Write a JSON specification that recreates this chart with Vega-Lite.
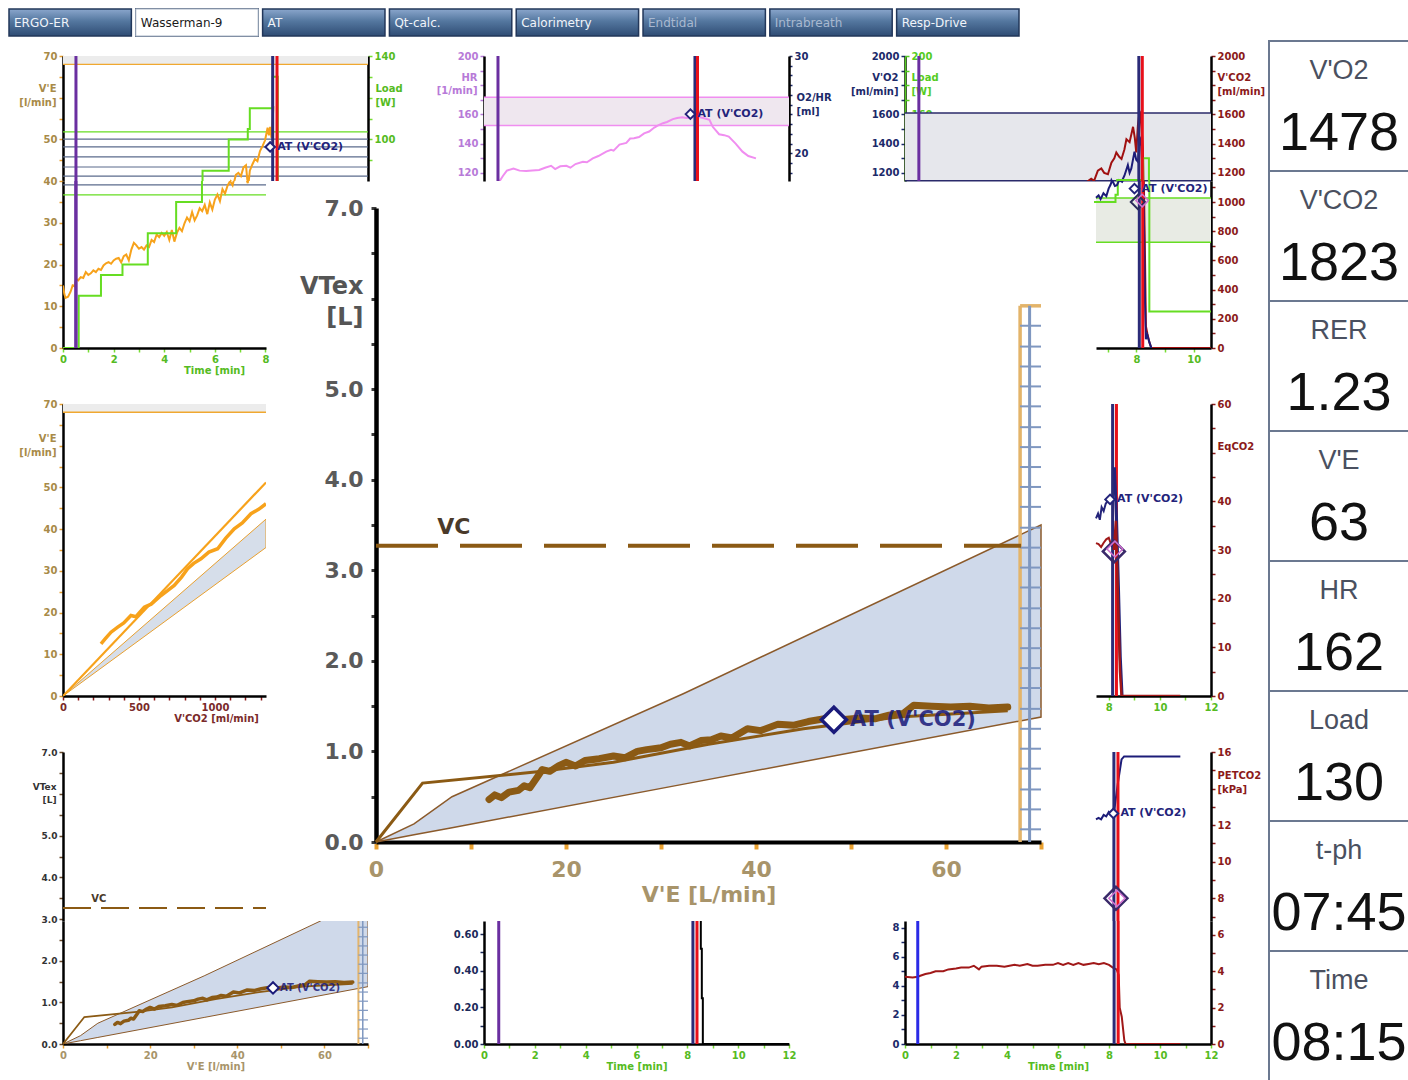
{
"$schema":"https://vega.github.io/schema/vega-lite/v6.json",
"background":"white",
"padding":{"left":8,"top":8,"right":0,"bottom":0},
"config":{
 "view":{"stroke":null},
 "axis":{"labelFont":"DejaVu Sans","labelFontWeight":"bold","labelFontSize":10,"titleFont":"DejaVu Sans","titleFontWeight":"bold","titleFontSize":10,"domainColor":"#000000","domainWidth":2.5,"tickWidth":1.5,"tickSize":4,"grid":false,"labelPadding":2,"labelFlush":false,"labelOverlap":false},
 "text":{"font":"DejaVu Sans"}
},
"datasets":{
 "ve":[{"t":0,"v":15},{"t":0.05,"v":13},{"t":0.1,"v":12},{"t":0.2,"v":12.3},{"t":0.3,"v":13.5},{"t":0.38,"v":15},{"t":0.45,"v":14.8},{"t":0.52,"v":16.5},{"t":0.6,"v":16.2},{"t":0.7,"v":17},{"t":0.8,"v":16.8},{"t":0.9,"v":18.2},{"t":1,"v":17.5},{"t":1.1,"v":17.9},{"t":1.2,"v":18.6},{"t":1.3,"v":18.2},{"t":1.4,"v":19},{"t":1.5,"v":18.7},{"t":1.6,"v":19.8},{"t":1.7,"v":20.3},{"t":1.8,"v":20.6},{"t":1.9,"v":20.2},{"t":2,"v":21},{"t":2.1,"v":21.4},{"t":2.2,"v":21.6},{"t":2.3,"v":20.5},{"t":2.4,"v":22},{"t":2.5,"v":22.4},{"t":2.6,"v":21},{"t":2.7,"v":23.6},{"t":2.8,"v":25.2},{"t":2.9,"v":24.6},{"t":3,"v":23.8},{"t":3.1,"v":24.2},{"t":3.2,"v":23.6},{"t":3.3,"v":24.6},{"t":3.4,"v":24.2},{"t":3.5,"v":25.9},{"t":3.6,"v":25.4},{"t":3.7,"v":27.2},{"t":3.8,"v":26.6},{"t":3.9,"v":27.6},{"t":4,"v":26.9},{"t":4.1,"v":27.8},{"t":4.2,"v":25.9},{"t":4.3,"v":28.3},{"t":4.4,"v":25.5},{"t":4.5,"v":27.6},{"t":4.6,"v":28.8},{"t":4.7,"v":28},{"t":4.8,"v":29.9},{"t":4.9,"v":31.3},{"t":5,"v":30.4},{"t":5.1,"v":32.6},{"t":5.2,"v":30.6},{"t":5.3,"v":31.8},{"t":5.4,"v":33.5},{"t":5.5,"v":32.8},{"t":5.6,"v":34.3},{"t":5.7,"v":32.1},{"t":5.8,"v":34.9},{"t":5.9,"v":33.2},{"t":6,"v":35.6},{"t":6.1,"v":36.8},{"t":6.2,"v":35.2},{"t":6.3,"v":38.1},{"t":6.4,"v":37},{"t":6.5,"v":38.9},{"t":6.6,"v":40},{"t":6.7,"v":39},{"t":6.8,"v":41.5},{"t":6.9,"v":42},{"t":7,"v":41.2},{"t":7.1,"v":43.3},{"t":7.2,"v":43.8},{"t":7.25,"v":40.4},{"t":7.3,"v":39.5},{"t":7.35,"v":42.5},{"t":7.45,"v":44},{"t":7.55,"v":45.3},{"t":7.65,"v":44.8},{"t":7.75,"v":47.2},{"t":7.85,"v":48.4},{"t":7.95,"v":49.8},{"t":8.05,"v":52.8},{"t":8.1,"v":51},{"t":8.15,"v":53},{"t":8.2,"v":50.4},{"t":8.25,"v":55},{"t":8.28,"v":58}],
 "load":[{"t":0,"w":0},{"t":0.62,"w":25},{"t":1.5,"w":35},{"t":2.35,"w":40},{"t":3.35,"w":55},{"t":4.47,"w":70},{"t":5.49,"w":85},{"t":6.52,"w":100},{"t":7.27,"w":105},{"t":7.35,"w":115},{"t":8.25,"w":130},{"t":8.45,"w":25},{"t":10.75,"w":25}],
 "aLines":[{"t":0,"t2":12,"v":68,"c":"o"},{"t":0,"t2":12,"v":51.8,"c":"l"},{"t":0,"t2":12,"v":50.1,"c":"g"},{"t":0,"t2":12,"v":48.2,"c":"g"},{"t":0,"t2":12,"v":45.8,"c":"g"},{"t":0,"t2":12,"v":43.4,"c":"g"},{"t":0,"t2":12,"v":41.2,"c":"g"},{"t":0,"t2":12,"v":39.1,"c":"g"},{"t":0,"t2":12,"v":36.7,"c":"l"}],
 "hr":[{"t":0.55,"v":113},{"t":0.62,"v":114.5},{"t":0.75,"v":118},{"t":0.9,"v":121.5},{"t":1.16,"v":123},{"t":1.4,"v":121.5},{"t":1.66,"v":121.2},{"t":1.9,"v":121.6},{"t":2.17,"v":121.9},{"t":2.4,"v":123.5},{"t":2.64,"v":124.8},{"t":2.8,"v":122.6},{"t":3,"v":124.5},{"t":3.24,"v":124.8},{"t":3.4,"v":123.5},{"t":3.6,"v":126},{"t":3.89,"v":127.6},{"t":4.05,"v":127.2},{"t":4.28,"v":129.9},{"t":4.5,"v":131.5},{"t":4.81,"v":134.5},{"t":5,"v":135.8},{"t":5.1,"v":135.2},{"t":5.33,"v":139.3},{"t":5.6,"v":140.5},{"t":5.75,"v":143.5},{"t":5.9,"v":143.7},{"t":6.1,"v":144.5},{"t":6.3,"v":147},{"t":6.5,"v":148.3},{"t":6.7,"v":151},{"t":6.85,"v":152.5},{"t":7.04,"v":154},{"t":7.2,"v":154.8},{"t":7.43,"v":156.8},{"t":7.6,"v":157.5},{"t":7.8,"v":158},{"t":7.96,"v":157.5},{"t":8.2,"v":158},{"t":8.5,"v":158},{"t":8.7,"v":157.2},{"t":8.87,"v":156.3},{"t":9,"v":151.5},{"t":9.25,"v":146.4},{"t":9.45,"v":145.8},{"t":9.63,"v":144.8},{"t":9.9,"v":140},{"t":10.17,"v":134.5},{"t":10.4,"v":131.5},{"t":10.7,"v":129.9}],
 "vco2":[{"t":6.2,"v":1120},{"t":6.28,"v":1135},{"t":6.45,"v":1160},{"t":6.55,"v":1145},{"t":6.68,"v":1215},{"t":6.8,"v":1230},{"t":6.9,"v":1200},{"t":7.03,"v":1190},{"t":7.15,"v":1270},{"t":7.25,"v":1300},{"t":7.32,"v":1340},{"t":7.42,"v":1310},{"t":7.5,"v":1295},{"t":7.6,"v":1360},{"t":7.67,"v":1430},{"t":7.78,"v":1410},{"t":7.9,"v":1515},{"t":7.96,"v":1440},{"t":8.01,"v":1340},{"t":8.07,"v":1530},{"t":8.13,"v":1625},{"t":8.2,"v":1500},{"t":8.24,"v":1365},{"t":8.27,"v":1000},{"t":8.3,"v":600},{"t":8.33,"v":150},{"t":8.38,"v":100},{"t":8.45,"v":40},{"t":8.52,"v":0},{"t":10.6,"v":0}],
 "vo2":[{"t":6.4,"v":1000},{"t":6.59,"v":1030},{"t":6.68,"v":1046},{"t":6.75,"v":1020},{"t":6.85,"v":1060},{"t":6.95,"v":1040},{"t":7.03,"v":1092},{"t":7.1,"v":1120},{"t":7.15,"v":1150},{"t":7.25,"v":1110},{"t":7.32,"v":1115},{"t":7.4,"v":1150},{"t":7.5,"v":1138},{"t":7.6,"v":1180},{"t":7.72,"v":1253},{"t":7.78,"v":1200},{"t":7.84,"v":1230},{"t":7.95,"v":1345},{"t":8.01,"v":1290},{"t":8.07,"v":1276},{"t":8.13,"v":1448},{"t":8.18,"v":1390},{"t":8.22,"v":1250},{"t":8.26,"v":900},{"t":8.3,"v":300},{"t":8.33,"v":60},{"t":8.38,"v":90},{"t":8.45,"v":40},{"t":8.52,"v":0}],
 "dThick":[{"x":250,"y":12.5},{"x":280,"y":13.8},{"x":316,"y":15.3},{"x":360,"y":16.5},{"x":400,"y":17.5},{"x":447,"y":19.3},{"x":480,"y":19},{"x":535,"y":21.3},{"x":580,"y":22},{"x":645,"y":24.1},{"x":690,"y":25.3},{"x":732,"y":26.5},{"x":780,"y":28.5},{"x":820,"y":30.5},{"x":860,"y":31.8},{"x":908,"y":32.9},{"x":960,"y":34.5},{"x":1018,"y":35.3},{"x":1070,"y":37.8},{"x":1127,"y":40.1},{"x":1180,"y":41.5},{"x":1237,"y":43.7},{"x":1290,"y":44.8},{"x":1336,"y":46.1}],
 "vtArea":[{"x":0,"y":0,"y2":0},{"x":4,"y":0.2,"y2":0.079},{"x":8,"y":0.5,"y2":0.158},{"x":32.4,"y":1.64,"y2":0.639},{"x":70,"y":3.5,"y2":1.38}],
 "vtThin":[{"x":0,"y":0},{"x":4.9,"y":0.65},{"x":17.5,"y":0.78},{"x":25,"y":0.88},{"x":35,"y":1.08},{"x":45,"y":1.25},{"x":55,"y":1.38},{"x":66.5,"y":1.45}],
 "vtThick":[{"x":11.9,"y":0.47},{"x":12.5,"y":0.52},{"x":13.2,"y":0.49},{"x":14,"y":0.55},{"x":15,"y":0.57},{"x":15.6,"y":0.62},{"x":16.2,"y":0.6},{"x":17,"y":0.72},{"x":17.5,"y":0.8},{"x":18.3,"y":0.78},{"x":19.2,"y":0.84},{"x":20,"y":0.88},{"x":21,"y":0.84},{"x":22,"y":0.9},{"x":23.5,"y":0.92},{"x":25,"y":0.95},{"x":26.2,"y":0.93},{"x":27.5,"y":1},{"x":28.5,"y":1.02},{"x":30,"y":1.04},{"x":31,"y":1.08},{"x":32.1,"y":1.1},{"x":33,"y":1.06},{"x":34.2,"y":1.12},{"x":35.3,"y":1.13},{"x":36.3,"y":1.17},{"x":37.5,"y":1.15},{"x":39.1,"y":1.25},{"x":40.5,"y":1.23},{"x":42.3,"y":1.3},{"x":44,"y":1.29},{"x":45.5,"y":1.33},{"x":47.2,"y":1.36},{"x":49,"y":1.35},{"x":51,"y":1.37},{"x":52.5,"y":1.36},{"x":54,"y":1.4},{"x":55.5,"y":1.42},{"x":56.6,"y":1.51},{"x":58.5,"y":1.5},{"x":60.5,"y":1.49},{"x":62.5,"y":1.5},{"x":64.5,"y":1.48},{"x":66.5,"y":1.49}],
 "bandTicks":[{"x":67.8,"x2":70,"y":5.7},{"x":67.8,"x2":70,"y":5.47},{"x":67.8,"x2":70,"y":5.25},{"x":67.8,"x2":70,"y":5.03},{"x":67.8,"x2":70,"y":4.81},{"x":67.8,"x2":70,"y":4.58},{"x":67.8,"x2":70,"y":4.36},{"x":67.8,"x2":70,"y":4.14},{"x":67.8,"x2":70,"y":3.92},{"x":67.8,"x2":70,"y":3.7},{"x":67.8,"x2":70,"y":3.47},{"x":67.8,"x2":70,"y":3.25},{"x":67.8,"x2":70,"y":3.03},{"x":67.8,"x2":70,"y":2.81},{"x":67.8,"x2":70,"y":2.58},{"x":67.8,"x2":70,"y":2.36},{"x":67.8,"x2":70,"y":2.14},{"x":67.8,"x2":70,"y":1.92},{"x":67.8,"x2":70,"y":1.7},{"x":67.8,"x2":70,"y":1.47},{"x":67.8,"x2":70,"y":1.25},{"x":67.8,"x2":70,"y":1.03},{"x":67.8,"x2":70,"y":0.81},{"x":67.8,"x2":70,"y":0.58},{"x":67.8,"x2":70,"y":0.36},{"x":67.8,"x2":70,"y":0.14}],
 "vc":[{"x":0,"x2":67.9,"y":3.27,"lx":8.2,"label":"VC"}],
 "at":[{"x":48.2,"y":1.35,"label":"AT (V'CO2)"}],
 "petco2":[{"t":0,"v":3.7},{"t":0.3,"v":3.65},{"t":0.5,"v":3.7},{"t":0.6,"v":3.75},{"t":0.8,"v":3.85},{"t":1,"v":3.9},{"t":1.2,"v":4},{"t":1.5,"v":4},{"t":1.7,"v":4.1},{"t":2,"v":4.15},{"t":2.2,"v":4.2},{"t":2.5,"v":4.2},{"t":2.7,"v":4.3},{"t":2.9,"v":4.1},{"t":3,"v":4.25},{"t":3.3,"v":4.3},{"t":3.6,"v":4.3},{"t":3.9,"v":4.25},{"t":4.1,"v":4.3},{"t":4.3,"v":4.35},{"t":4.5,"v":4.3},{"t":4.8,"v":4.4},{"t":5,"v":4.3},{"t":5.2,"v":4.3},{"t":5.5,"v":4.35},{"t":5.8,"v":4.35},{"t":6,"v":4.45},{"t":6.2,"v":4.35},{"t":6.4,"v":4.45},{"t":6.6,"v":4.35},{"t":6.8,"v":4.45},{"t":7,"v":4.35},{"t":7.2,"v":4.4},{"t":7.4,"v":4.45},{"t":7.6,"v":4.38},{"t":7.8,"v":4.45},{"t":8,"v":4.35},{"t":8.15,"v":4.2},{"t":8.3,"v":4.1},{"t":8.38,"v":3.8},{"t":8.42,"v":2},{"t":8.5,"v":1.5},{"t":8.6,"v":0.2},{"t":8.65,"v":0},{"t":10.8,"v":0}],
 "peto2":[{"t":7.5,"v":15.4},{"t":7.6,"v":15.5},{"t":7.7,"v":15.4},{"t":7.8,"v":15.7},{"t":7.9,"v":15.6},{"t":8,"v":15.9},{"t":8.1,"v":15.7},{"t":8.2,"v":15.8},{"t":8.35,"v":17.8},{"t":8.5,"v":19.5},{"t":8.6,"v":19.7},{"t":10.8,"v":19.7}],
 "eqN":[{"t":7.5,"v":36.5},{"t":7.58,"v":37.5},{"t":7.65,"v":36.2},{"t":7.72,"v":38.8},{"t":7.8,"v":38},{"t":7.88,"v":39.5},{"t":7.95,"v":40},{"t":8.05,"v":40.4}],
 "eqR":[{"t":7.5,"v":31.4},{"t":7.6,"v":31.2},{"t":7.7,"v":30.6},{"t":7.8,"v":31.5},{"t":7.9,"v":32.2},{"t":8,"v":32.5},{"t":8.1,"v":31},{"t":8.2,"v":30}],
 "eqNpost":[{"t":8.22,"v":47},{"t":8.3,"v":37},{"t":8.38,"v":22},{"t":8.45,"v":8},{"t":8.52,"v":0}],
 "eqRpost":[{"t":8.2,"v":30},{"t":8.28,"v":36},{"t":8.36,"v":20},{"t":8.44,"v":5},{"t":8.5,"v":0},{"t":10.8,"v":0}],
 "hBlack":[{"t":8.5,"v":0.672},{"t":8.53,"v":0.52},{"t":8.57,"v":0.25},{"t":8.61,"v":0},{"t":12,"v":0}],
 "blank":[{"a":1}]
},
"columns":6,
"spacing":0,
"bounds":"flush",
"align":"each",
"concat":[
 {
  "width":54,"height":27,
  "data":{"values":[{"tab":"ERGO-ER","s":"on"},{"tab":"Wasserman-9","s":"active"},{"tab":"AT","s":"on"},{"tab":"Qt-calc.","s":"on"},{"tab":"Calorimetry","s":"on"},{"tab":"Endtidal","s":"off"},{"tab":"Intrabreath","s":"off"},{"tab":"Resp-Drive","s":"on"}]},
  "encoding":{"x":{"field":"tab","type":"nominal","sort":null,"scale":{"range":[0,1010],"paddingInner":0.035,"paddingOuter":0},"axis":null}},
  "layer":[
   {"mark":{"type":"rect","stroke":"#22375a","strokeWidth":1.5,"fill":{"gradient":"linear","x1":0,"y1":0,"x2":0,"y2":1,"stops":[{"offset":0,"color":"#8aa6cc"},{"offset":0.45,"color":"#54779f"},{"offset":1,"color":"#2f4c74"}]}}},
   {"transform":[{"filter":"datum.s=='active'"}],"mark":{"type":"rect","fill":"white","stroke":"#aab6c6","strokeWidth":1}},
   {"mark":{"type":"text","align":"left","dx":5,"fontSize":12,"font":"DejaVu Sans"},"encoding":{"x":{"field":"tab","type":"nominal","sort":null,"bandPosition":0},"text":{"field":"tab"},"color":{"field":"s","type":"nominal","scale":{"domain":["on","off","active"],"range":["#f0f4fa","#a9b9d0","#1a1a1a"]},"legend":null}}}
  ]
 },
 {"width":1,"height":32,"data":{"name":"blank"},"mark":{"type":"text","text":"","fontSize":1,"baseline":"top"}},
 {"width":1,"height":1,"data":{"name":"blank"},"mark":{"type":"text","text":"","fontSize":1,"baseline":"top"}},
 {"width":1,"height":1,"data":{"name":"blank"},"mark":{"type":"text","text":"","fontSize":1,"baseline":"top"}},
 {"width":1,"height":1,"data":{"name":"blank"},"mark":{"type":"text","text":"","fontSize":1,"baseline":"top"}},
 {"width":1,"height":1,"data":{"name":"blank"},"mark":{"type":"text","text":"","fontSize":1,"baseline":"top"}},

 {"width":1,"height":15,"data":{"name":"blank"},"mark":{"type":"text","text":"","fontSize":1,"baseline":"top"}},
 {"width":1,"height":1,"data":{"name":"blank"},"mark":{"type":"text","text":"","fontSize":1,"baseline":"top"}},
 {"width":1,"height":1,"data":{"name":"blank"},"mark":{"type":"text","text":"","fontSize":1,"baseline":"top"}},
 {"width":1,"height":1,"data":{"name":"blank"},"mark":{"type":"text","text":"","fontSize":1,"baseline":"top"}},
 {"width":1,"height":1,"data":{"name":"blank"},"mark":{"type":"text","text":"","fontSize":1,"baseline":"top"}},
 {
  "width":140,"height":15,
  "data":{"values":[{"k":"V'O2","v":"1478"},{"k":"V'CO2","v":"1823"},{"k":"RER","v":"1.23"},{"k":"V'E","v":"63"},{"k":"HR","v":"162"},{"k":"Load","v":"130"},{"k":"t-ph","v":"07:45"},{"k":"Time","v":"08:15"}]},
  "encoding":{"y":{"field":"k","type":"nominal","sort":null,"scale":{"range":[0,1040],"paddingInner":0,"paddingOuter":0},"axis":null}},
  "layer":[
   {"mark":{"type":"rect","fill":"white","stroke":"#6b7890","strokeWidth":2}},
   {"mark":{"type":"text","fontSize":27,"font":"Liberation Sans","color":"#4a5060","yOffset":-35},"encoding":{"text":{"field":"k"}}},
   {"mark":{"type":"text","fontSize":54,"font":"Liberation Sans","color":"#111111","yOffset":28},"encoding":{"text":{"field":"v"}}}
  ]
 },

 {"width":1,"height":125,"data":{"name":"blank"},"mark":{"type":"text","text":"","fontSize":1,"baseline":"top"}},
 {
  "width":305,"height":125,
  "encoding":{"x":{"field":"t","type":"quantitative","scale":{"domain":[0,12],"nice":false},"axis":null}},
  "resolve":{"scale":{"y":"independent","color":"independent"}},
  "layer":[
   {"data":{"values":[{"t":0,"t2":12,"lo":68,"hi":70}]},"mark":{"type":"rect","fill":"#ececec","clip":true},"encoding":{"x2":{"field":"t2"},"y":{"field":"lo","type":"quantitative","scale":{"domain":[40.04,70],"nice":false,"zero":false},"axis":{"orient":"left","values":[45,50,55,60,65,70],"labelExpr":"datum.value==70||datum.value==50?datum.label:''","labelColor":"#a88a48","tickColor":"#e8a030","title":["V'E","[l/min]"],"titleColor":"#a88a48","titleAngle":0,"titleAlign":"right","titleBaseline":"top","titleX":-7,"titleY":27,"titleLineHeight":14}},"y2":{"field":"hi"}}},
   {"data":{"name":"aLines"},"mark":{"type":"rule","strokeWidth":1.2,"clip":true},"encoding":{"x2":{"field":"t2"},"y":{"field":"v","type":"quantitative","scale":{"domain":[40.04,70],"nice":false,"zero":false},"axis":null},"color":{"field":"c","type":"nominal","scale":{"domain":["g","l","o"],"range":["#5b6b8c","#66dd22","#f0a830"]},"legend":null}}},
   {"data":{"name":"ve"},"mark":{"type":"line","color":"#f7a21b","strokeWidth":2,"clip":true},"encoding":{"y":{"field":"v","type":"quantitative","scale":{"domain":[40.04,70],"nice":false,"zero":false},"axis":null}}},
   {"data":{"name":"load"},"mark":{"type":"line","interpolate":"step-after","color":"#66dd22","strokeWidth":2,"clip":true},"encoding":{"y":{"field":"w","type":"quantitative","scale":{"domain":[80.08,140],"nice":false,"zero":false},"axis":{"orient":"right","values":[90,100,110,120,130,140],"labelExpr":"datum.value==140||datum.value==100?datum.label:''","labelColor":"#55bb22","tickColor":"#77dd33","title":["Load","[W]"],"titleColor":"#55bb22","titleAngle":0,"titleAlign":"left","titleBaseline":"top","titleX":7,"titleY":27,"titleLineHeight":14}}}},
   {"data":{"values":[{"t":0.51,"c":"p"},{"t":8.25,"c":"n"},{"t":8.42,"c":"r"}]},"mark":{"type":"rule","strokeWidth":3},"encoding":{"color":{"field":"c","type":"nominal","scale":{"domain":["p","n","r","b"],"range":["#6a2fa0","#2b2b78","#e8101a","#2a2ae6"]},"legend":null}}},
   {"data":{"values":[{"t":8.15,"v":48.2}]},"mark":{"type":"point","shape":"diamond","size":90,"filled":true,"fill":"white","stroke":"#23237a","strokeWidth":2,"opacity":1},"encoding":{"y":{"field":"v","type":"quantitative","scale":{"domain":[40.04,70],"nice":false,"zero":false},"axis":null}}},
   {"data":{"values":[{"t":8.15,"v":48.2,"label":"AT (V'CO2)"}]},"mark":{"type":"text","align":"left","dx":7,"fontSize":11,"fontWeight":"bold","color":"#23237a"},"encoding":{"y":{"field":"v","type":"quantitative","scale":{"domain":[40.04,70],"nice":false,"zero":false},"axis":null},"text":{"field":"label"}}}
  ]
 },
 {"width":1,"height":1,"data":{"name":"blank"},"mark":{"type":"text","text":"","fontSize":1,"baseline":"top"}},
 {
  "width":305,"height":125,
  "encoding":{"x":{"field":"t","type":"quantitative","scale":{"domain":[0,12],"nice":false},"axis":null}},
  "resolve":{"scale":{"y":"independent","color":"independent"}},
  "layer":[
   {"data":{"values":[{"t":0,"t2":12,"lo":152.4,"hi":171.7}]},"mark":{"type":"rect","fill":"#efe7ef","clip":true},"encoding":{"x2":{"field":"t2"},"y":{"field":"lo","type":"quantitative","scale":{"domain":[114.4,200],"nice":false,"zero":false},"axis":{"orient":"left","values":[120,130,140,150,160,170,180,190,200],"labelExpr":"datum.value==200||datum.value==160||datum.value==140||datum.value==120?datum.label:''","labelColor":"#b77ad8","tickColor":"#b77ad8","title":["HR","[1/min]"],"titleColor":"#b77ad8","titleAngle":0,"titleAlign":"right","titleBaseline":"top","titleX":-7,"titleY":16,"titleLineHeight":13}},"y2":{"field":"hi"}}},
   {"data":{"values":[{"t":0,"t2":12,"v":152.4},{"t":0,"t2":12,"v":171.7}]},"mark":{"type":"rule","color":"#f08ef0","strokeWidth":1.5},"encoding":{"x2":{"field":"t2"},"y":{"field":"v","type":"quantitative","scale":{"domain":[114.4,200],"nice":false,"zero":false},"axis":null}}},
   {"data":{"name":"hr"},"mark":{"type":"line","color":"#f08ef0","strokeWidth":2,"clip":true},"encoding":{"y":{"field":"v","type":"quantitative","scale":{"domain":[114.4,200],"nice":false,"zero":false},"axis":null}}},
   {"data":{"values":[{"t":0.55,"c":"p"},{"t":8.3,"c":"n"},{"t":8.4,"c":"r"}]},"mark":{"type":"rule","strokeWidth":3},"encoding":{"color":{"field":"c","type":"nominal","scale":{"domain":["p","n","r","b"],"range":["#6a2fa0","#2b2b78","#e8101a","#2a2ae6"]},"legend":null}}},
   {"data":{"values":[{"t":8.12,"v":160.2}]},"mark":{"type":"point","shape":"diamond","size":90,"filled":true,"fill":"white","stroke":"#23237a","strokeWidth":2,"opacity":1},"encoding":{"y":{"field":"v","type":"quantitative","scale":{"domain":[114.4,200],"nice":false,"zero":false},"axis":null}}},
   {"data":{"values":[{"t":8.12,"v":160.2,"label":"AT (V'CO2)"}]},"mark":{"type":"text","align":"left","dx":7,"fontSize":11,"fontWeight":"bold","color":"#23237a"},"encoding":{"y":{"field":"v","type":"quantitative","scale":{"domain":[114.4,200],"nice":false,"zero":false},"axis":null},"text":{"field":"label"}}},
   {"data":{"values":[{"t":1,"v":20}]},"mark":{"type":"point","opacity":0},"encoding":{"y":{"field":"v","type":"quantitative","scale":{"domain":[17.16,30],"nice":false,"zero":false},"axis":{"orient":"right","values":[18,19,20,21,22,23,24,25,26,27,28,29,30],"labelExpr":"datum.value==30||datum.value==20?datum.label:''","labelColor":"#1c2a6a","tickColor":"#1c2a6a","tickSize":3,"title":["O2/HR","[ml]"],"titleColor":"#1c2a6a","titleAngle":0,"titleAlign":"left","titleBaseline":"top","titleX":7,"titleY":36,"titleLineHeight":14}}}}
  ]
 },
 {
  "width":306,"height":125,
  "encoding":{"x":{"field":"t","type":"quantitative","scale":{"domain":[0,10.6],"nice":false},"axis":null}},
  "resolve":{"scale":{"y":"independent","color":"independent"}},
  "layer":[
   {"data":{"values":[{"t":0,"t2":10.6,"lo":1146,"hi":1610}]},"mark":{"type":"rect","fill":"#e6e7ec","clip":true},"encoding":{"x2":{"field":"t2"},"y":{"field":"lo","type":"quantitative","scale":{"domain":[1144,2000],"nice":false,"zero":false},"axis":{"orient":"left","format":"d","values":[1200,1300,1400,1500,1600,1700,1800,1900,2000],"labelExpr":"datum.value==2000||datum.value==1600||datum.value==1400||datum.value==1200?datum.label:''","labelColor":"#1c2a6a","tickColor":"#1c2a6a","title":["V'O2","[ml/min]"],"titleColor":"#1c2a6a","titleAngle":0,"titleAlign":"right","titleBaseline":"top","titleX":-7,"titleY":16,"titleLineHeight":14}},"y2":{"field":"hi"}}},
   {"data":{"values":[{"t":0,"t2":10.6,"v":1610},{"t":0,"t2":10.6,"v":1146}]},"mark":{"type":"rule","color":"#2a2a6a","strokeWidth":1.5},"encoding":{"x2":{"field":"t2"},"y":{"field":"v","type":"quantitative","scale":{"domain":[1144,2000],"nice":false,"zero":false},"axis":null}}},
   {"data":{"name":"vco2"},"mark":{"type":"line","color":"#a01010","strokeWidth":2,"clip":true},"encoding":{"y":{"field":"v","type":"quantitative","scale":{"domain":[1144,2000],"nice":false,"zero":false},"axis":{"orient":"right","format":"d","values":[1200,1300,1400,1500,1600,1700,1800,1900,2000],"labelExpr":"datum.value==2000||datum.value==1600||datum.value==1400||datum.value==1200?datum.label:''","labelColor":"#8b1a1a","tickColor":"#8b1a1a","title":["V'CO2","[ml/min]"],"titleColor":"#8b1a1a","titleAngle":0,"titleAlign":"left","titleBaseline":"top","titleX":6,"titleY":16,"titleLineHeight":14}}}},
   {"data":{"name":"vo2"},"mark":{"type":"line","color":"#1c1c78","strokeWidth":2,"clip":true},"encoding":{"y":{"field":"v","type":"quantitative","scale":{"domain":[1144,2000],"nice":false,"zero":false},"axis":null}}},
   {"data":{"name":"load"},"mark":{"type":"line","interpolate":"step-after","color":"#66dd22","strokeWidth":2,"clip":true},"encoding":{"y":{"field":"w","type":"quantitative","scale":{"domain":[114.4,200],"nice":false,"zero":false},"axis":{"orient":"right","offset":-306,"values":[120,130,140,150,160,170,180,190,200],"labelExpr":"datum.value==200||datum.value==160||datum.value==140||datum.value==120?datum.label:''","labelColor":"#55cc22","tickColor":"#55cc22","domainColor":"#55cc22","domainWidth":1.5,"title":["Load","[W]"],"titleColor":"#55cc22","titleAngle":0,"titleAlign":"left","titleBaseline":"top","titleX":6,"titleY":16,"titleLineHeight":14}}}},
   {"data":{"values":[{"t":0.48,"c":"p"},{"t":8.1,"c":"n"},{"t":8.22,"c":"r"}]},"mark":{"type":"rule","strokeWidth":3},"encoding":{"color":{"field":"c","type":"nominal","scale":{"domain":["p","n","r","b"],"range":["#6a2fa0","#2b2b78","#e8101a","#2a2ae6"]},"legend":null}}}
  ]
 },
 {"width":1,"height":1,"data":{"name":"blank"},"mark":{"type":"text","text":"","fontSize":1,"baseline":"top"}},

 {"width":1,"height":167,"data":{"name":"blank"},"mark":{"type":"text","text":"","fontSize":1,"baseline":"top"}},
 {
  "width":203,"height":167,
  "encoding":{"x":{"field":"t","type":"quantitative","scale":{"domain":[0,8.02],"nice":false},"axis":{"values":[0,1,2,3,4,5,6,7,8],"labelExpr":"datum.value%2==0?datum.label:''","labelColor":"#55bb22","tickColor":"#77dd33","title":"Time  [min]","titleColor":"#55bb22","titleX":151,"titleAlign":"center","titlePadding":1}}},
  "resolve":{"scale":{"y":"independent","color":"independent"}},
  "layer":[
   {"data":{"name":"aLines"},"mark":{"type":"rule","strokeWidth":1.2,"clip":true},"encoding":{"x2":{"field":"t2"},"y":{"field":"v","type":"quantitative","scale":{"domain":[0,40.04],"nice":false},"axis":null},"color":{"field":"c","type":"nominal","scale":{"domain":["g","l","o"],"range":["#5b6b8c","#66dd22","#f0a830"]},"legend":null}}},
   {"data":{"name":"ve"},"mark":{"type":"line","color":"#f7a21b","strokeWidth":2,"clip":true},"encoding":{"y":{"field":"v","type":"quantitative","scale":{"domain":[0,40.04],"nice":false},"axis":{"orient":"left","values":[0,5,10,15,20,25,30,35,40],"labelExpr":"datum.value%10==0?datum.label:''","labelColor":"#a88a48","tickColor":"#e8a030","title":null}}}},
   {"data":{"name":"load"},"mark":{"type":"line","interpolate":"step-after","color":"#66dd22","strokeWidth":2,"clip":true},"encoding":{"y":{"field":"w","type":"quantitative","scale":{"domain":[0,80.08],"nice":false},"axis":null}}},
   {"data":{"values":[{"t":0.51,"c":"p"}]},"mark":{"type":"rule","strokeWidth":3.5},"encoding":{"color":{"field":"c","type":"nominal","scale":{"domain":["p"],"range":["#6a2fa0"]},"legend":null}}}
  ]
 },
 {
  "width":108,"height":167,
  "encoding":{"x":{"field":"x","type":"quantitative","scale":{"domain":[0,70],"range":[0,665],"nice":false},"axis":{"offset":494,"values":[0,10,20,30,40,50,60,70],"labelExpr":"datum.value%20==0&&datum.value<70?datum.label:''","labelColor":"#a8946a","labelFontSize":22,"tickColor":"#e8a030","tickSize":7,"tickWidth":4,"domainWidth":4,"labelPadding":10,"title":"V'E  [L/min]","titleColor":"#a8946a","titleFontSize":22,"titlePadding":4}},
   "y":{"field":"y","type":"quantitative","scale":{"domain":[0,7],"range":[661,27],"nice":false},"axis":{"values":[0,0.5,1,1.5,2,2.5,3,3.5,4,4.5,5,5.5,6,6.5,7],"labelExpr":"datum.value%1==0&&datum.value!=6?format(datum.value,'.1f'):''","labelColor":"#5a5a5a","labelFontSize":22,"tickColor":"#3a3a3a","tickSize":5,"tickWidth":3,"domainWidth":4.5,"labelPadding":8,"title":["VTex","[L]"],"titleColor":"#555555","titleFontSize":24,"titleAngle":0,"titleAlign":"right","titleBaseline":"top","titleX":-13,"titleY":93,"titleLineHeight":31}}},
  "layer":[
   {"data":{"name":"vtArea"},"mark":{"type":"area","fill":"#cfd9ea","stroke":"#8b5a2b","strokeWidth":1.5},"encoding":{"y2":{"field":"y2"}}},
   {"data":{"values":[{"x":67.8,"y":0,"y2":5.92}]},"mark":{"type":"rule","color":"#e3b46a","strokeWidth":3.5},"encoding":{"y2":{"field":"y2"}}},
   {"data":{"values":[{"x":67.8,"x2":70,"y":5.92}]},"mark":{"type":"rule","color":"#e3b46a","strokeWidth":3.5},"encoding":{"x2":{"field":"x2"}}},
   {"data":{"name":"bandTicks"},"mark":{"type":"rule","color":"#7f97c0","strokeWidth":2},"encoding":{"x2":{"field":"x2"}}},
   {"data":{"values":[{"x":68.8,"y":0,"y2":5.92}]},"mark":{"type":"rule","color":"#7f97c0","strokeWidth":3},"encoding":{"y2":{"field":"y2"}}},
   {"data":{"name":"vc"},"mark":{"type":"rule","color":"#8b5a14","strokeWidth":4,"strokeDash":[62,22]},"encoding":{"x2":{"field":"x2"}}},
   {"data":{"name":"vc"},"mark":{"type":"text","dy":-19,"fontSize":22,"fontWeight":"bold","color":"#4a3a2a"},"encoding":{"x":{"field":"lx","type":"quantitative"},"text":{"field":"label"}}},
   {"data":{"name":"vtThin"},"mark":{"type":"line","color":"#8b5a14","strokeWidth":3}},
   {"data":{"name":"vtThick"},"mark":{"type":"line","color":"#8b5a14","strokeWidth":7,"strokeCap":"round","strokeJoin":"round"}},
   {"data":{"name":"at"},"mark":{"type":"point","shape":"diamond","size":625,"filled":true,"fill":"white","stroke":"#1a1a7a","strokeWidth":3.5,"opacity":1}},
   {"data":{"name":"at"},"mark":{"type":"text","align":"left","dx":16,"fontSize":21,"fontWeight":"bold","color":"#1a1a7a","opacity":0.85},"encoding":{"text":{"field":"label"}}}
  ]
 },
 {"width":1,"height":1,"data":{"name":"blank"},"mark":{"type":"text","text":"","fontSize":1,"baseline":"top"}},
 {
  "width":306,"height":167,
  "encoding":{"x":{"field":"t","type":"quantitative","scale":{"domain":[6.59,10.6],"range":[191,306],"nice":false,"zero":false},"axis":{"values":[7,8,9,10],"labelExpr":"datum.value%2==0?datum.label:''","labelColor":"#55bb22","tickColor":"#77dd33","title":null}}},
  "resolve":{"scale":{"y":"independent","color":"independent"}},
  "layer":[
   {"data":{"values":[{"t":6.59,"t2":10.6,"lo":724,"hi":1028}]},"mark":{"type":"rect","fill":"#e8ebe4","clip":true},"encoding":{"x2":{"field":"t2"},"y":{"field":"lo","type":"quantitative","scale":{"domain":[0,1144],"nice":false},"axis":{"orient":"right","format":"d","values":[0,100,200,300,400,500,600,700,800,900,1000,1100],"labelExpr":"datum.value%200==0?datum.label:''","labelColor":"#8b1a1a","tickColor":"#8b1a1a","title":null}},"y2":{"field":"hi"}}},
   {"data":{"values":[{"t":6.59,"t2":10.6,"v":724},{"t":6.59,"t2":10.6,"v":1028}]},"mark":{"type":"rule","color":"#66dd22","strokeWidth":1.5},"encoding":{"x2":{"field":"t2"},"y":{"field":"v","type":"quantitative","scale":{"domain":[0,1144],"nice":false},"axis":null}}},
   {"data":{"name":"load"},"transform":[{"filter":"datum.t>=6.5"}],"mark":{"type":"line","interpolate":"step-after","color":"#66dd22","strokeWidth":2,"clip":true},"encoding":{"y":{"field":"w","type":"quantitative","scale":{"domain":[0,114.4],"nice":false},"axis":null}}},
   {"data":{"name":"vco2"},"transform":[{"filter":"datum.t>=6.55"}],"mark":{"type":"line","color":"#a01010","strokeWidth":2,"clip":true},"encoding":{"y":{"field":"v","type":"quantitative","scale":{"domain":[0,1144],"nice":false},"axis":null}}},
   {"data":{"name":"vo2"},"transform":[{"filter":"datum.t>=6.59"}],"mark":{"type":"line","color":"#1c1c78","strokeWidth":2,"clip":true},"encoding":{"y":{"field":"v","type":"quantitative","scale":{"domain":[0,1144],"nice":false},"axis":null}}},
   {"data":{"values":[{"t":8.1,"c":"n"},{"t":8.22,"c":"r"}]},"mark":{"type":"rule","strokeWidth":3},"encoding":{"color":{"field":"c","type":"nominal","scale":{"domain":["n","r"],"range":["#2b2b78","#e8101a"]},"legend":null}}},
   {"data":{"values":[{"t":8.05,"v":1000}]},"mark":{"type":"point","shape":"diamond","size":200,"filled":false,"stroke":"#2a2a5a","strokeWidth":2,"opacity":1},"encoding":{"y":{"field":"v","type":"quantitative","scale":{"domain":[0,1144],"nice":false},"axis":null}}},
   {"data":{"values":[{"t":8.2,"v":1010}]},"mark":{"type":"point","shape":"diamond","size":160,"filled":false,"stroke":"#d070d0","strokeWidth":1.5,"opacity":1},"encoding":{"y":{"field":"v","type":"quantitative","scale":{"domain":[0,1144],"nice":false},"axis":null}}},
   {"data":{"values":[{"t":7.93,"v":1092}]},"mark":{"type":"point","shape":"diamond","size":90,"filled":true,"fill":"white","stroke":"#23237a","strokeWidth":2,"opacity":1},"encoding":{"y":{"field":"v","type":"quantitative","scale":{"domain":[0,1144],"nice":false},"axis":null}}},
   {"data":{"values":[{"t":7.93,"v":1092,"label":"AT (V'CO2)"}]},"mark":{"type":"text","align":"left","dx":7,"fontSize":11,"fontWeight":"bold","color":"#23237a"},"encoding":{"y":{"field":"v","type":"quantitative","scale":{"domain":[0,1144],"nice":false},"axis":null},"text":{"field":"label"}}}
  ]
 },
 {"width":1,"height":1,"data":{"name":"blank"},"mark":{"type":"text","text":"","fontSize":1,"baseline":"top"}},

 {"width":1,"height":56,"data":{"name":"blank"},"mark":{"type":"text","text":"","fontSize":1,"baseline":"top"}},
 {"width":1,"height":1,"data":{"name":"blank"},"mark":{"type":"text","text":"","fontSize":1,"baseline":"top"}},
 {"width":1,"height":1,"data":{"name":"blank"},"mark":{"type":"text","text":"","fontSize":1,"baseline":"top"}},
 {"width":1,"height":1,"data":{"name":"blank"},"mark":{"type":"text","text":"","fontSize":1,"baseline":"top"}},
 {"width":1,"height":1,"data":{"name":"blank"},"mark":{"type":"text","text":"","fontSize":1,"baseline":"top"}},
 {"width":1,"height":1,"data":{"name":"blank"},"mark":{"type":"text","text":"","fontSize":1,"baseline":"top"}},

 {"width":1,"height":292,"data":{"name":"blank"},"mark":{"type":"text","text":"","fontSize":1,"baseline":"top"}},
 {
  "width":203,"height":292,
  "encoding":{"x":{"field":"x","type":"quantitative","scale":{"domain":[0,1336],"nice":false},"axis":{"format":"d","values":[0,100,200,300,400,500,600,700,800,900,1000,1100,1200,1300],"labelExpr":"datum.value%500==0?datum.label:''","labelColor":"#7a2a2a","tickColor":"#8b1a1a","title":"V'CO2  [ml/min]","titleColor":"#7a2a2a","titleX":153,"titleAlign":"center","titlePadding":1}},
   "y":{"field":"y","type":"quantitative","scale":{"domain":[0,70],"nice":false},"axis":{"values":[0,5,10,15,20,25,30,35,40,45,50,55,60,65,70],"labelExpr":"datum.value%10==0&&datum.value!=60?datum.label:''","labelColor":"#a88a48","tickColor":"#e8a030","title":["V'E","[l/min]"],"titleColor":"#a88a48","titleAngle":0,"titleAlign":"right","titleBaseline":"top","titleX":-7,"titleY":29,"titleLineHeight":14}}},
  "layer":[
   {"data":{"values":[{"x":0,"x2":1336,"y":68,"y2":70}]},"mark":{"type":"rect","fill":"#ececec"},"encoding":{"x2":{"field":"x2"},"y2":{"field":"y2"}}},
   {"data":{"values":[{"x":0,"x2":1336,"y":68}]},"mark":{"type":"rule","color":"#f0a830","strokeWidth":1.5},"encoding":{"x2":{"field":"x2"}}},
   {"data":{"values":[{"x":0,"y":0,"y2":0},{"x":1336,"y":42.4,"y2":35.6}]},"mark":{"type":"area","fill":"#d6deea","stroke":"#e8a030","strokeWidth":1,"clip":true},"encoding":{"y2":{"field":"y2"}}},
   {"data":{"values":[{"x":0,"y":0},{"x":1336,"y":51.2}]},"mark":{"type":"line","color":"#f7a21b","strokeWidth":2.2,"clip":true}},
   {"data":{"name":"dThick"},"mark":{"type":"line","color":"#f7a21b","strokeWidth":3.5,"clip":true}}
  ]
 },
 {"width":1,"height":1,"data":{"name":"blank"},"mark":{"type":"text","text":"","fontSize":1,"baseline":"top"}},
 {"width":1,"height":1,"data":{"name":"blank"},"mark":{"type":"text","text":"","fontSize":1,"baseline":"top"}},
 {
  "width":306,"height":292,
  "encoding":{"x":{"field":"t","type":"quantitative","scale":{"domain":[7.5,12],"range":[191,306],"nice":false,"zero":false},"axis":{"values":[8,9,10,11,12],"labelExpr":"datum.value%2==0?datum.label:''","labelColor":"#55bb22","tickColor":"#77dd33","title":null}},
   "y":{"field":"v","type":"quantitative","scale":{"domain":[0,60],"nice":false},"axis":{"orient":"right","values":[0,5,10,15,20,25,30,35,40,45,50,55,60],"labelExpr":"datum.value%10==0&&datum.value!=50?datum.label:''","labelColor":"#8b1a1a","tickColor":"#8b1a1a","title":"EqCO2","titleColor":"#8b1a1a","titleAngle":0,"titleAlign":"left","titleBaseline":"top","titleX":6,"titleY":37}}},
  "resolve":{"scale":{"color":"independent"}},
  "layer":[
   {"data":{"name":"eqN"},"mark":{"type":"line","color":"#23237a","strokeWidth":2,"clip":true}},
   {"data":{"name":"eqR"},"mark":{"type":"line","color":"#a01818","strokeWidth":2,"clip":true}},
   {"data":{"values":[{"t":8.15,"v":0,"v2":60,"c":"n"},{"t":8.3,"v":0,"v2":60,"c":"r"}]},"mark":{"type":"rule","strokeWidth":3},"encoding":{"y2":{"field":"v2"},"color":{"field":"c","type":"nominal","scale":{"domain":["n","r"],"range":["#2b2b78","#e8101a"]},"legend":null}}},
   {"data":{"name":"eqNpost"},"mark":{"type":"line","color":"#23237a","strokeWidth":3,"clip":true}},
   {"data":{"name":"eqRpost"},"mark":{"type":"line","color":"#a01818","strokeWidth":2.5,"clip":true}},
   {"data":{"values":[{"t":8.2,"v":29.7}]},"mark":{"type":"point","shape":"diamond","size":484,"filled":false,"stroke":"#3a2a6a","strokeWidth":2.5,"opacity":1}},
   {"data":{"values":[{"t":8.24,"v":30.2}]},"mark":{"type":"point","shape":"diamond","size":250,"filled":false,"stroke":"#d070d0","strokeWidth":1.5,"opacity":1}},
   {"data":{"values":[{"t":8.05,"v":40.4}]},"mark":{"type":"point","shape":"diamond","size":90,"filled":true,"fill":"white","stroke":"#23237a","strokeWidth":2,"opacity":1}},
   {"data":{"values":[{"t":8.05,"v":40.4,"label":"AT (V'CO2)"}]},"mark":{"type":"text","align":"left","dx":7,"fontSize":11,"fontWeight":"bold","color":"#23237a"},"encoding":{"text":{"field":"label"}}}
  ]
 },
 {"width":1,"height":1,"data":{"name":"blank"},"mark":{"type":"text","text":"","fontSize":1,"baseline":"top"}},

 {"width":1,"height":56,"data":{"name":"blank"},"mark":{"type":"text","text":"","fontSize":1,"baseline":"top"}},
 {"width":1,"height":1,"data":{"name":"blank"},"mark":{"type":"text","text":"","fontSize":1,"baseline":"top"}},
 {"width":1,"height":1,"data":{"name":"blank"},"mark":{"type":"text","text":"","fontSize":1,"baseline":"top"}},
 {"width":1,"height":1,"data":{"name":"blank"},"mark":{"type":"text","text":"","fontSize":1,"baseline":"top"}},
 {"width":1,"height":1,"data":{"name":"blank"},"mark":{"type":"text","text":"","fontSize":1,"baseline":"top"}},
 {"width":1,"height":1,"data":{"name":"blank"},"mark":{"type":"text","text":"","fontSize":1,"baseline":"top"}},

 {"width":1,"height":169,"data":{"name":"blank"},"mark":{"type":"text","text":"","fontSize":1,"baseline":"top"}},
 {
  "width":203,"height":169,
  "encoding":{"x":{"field":"x","type":"quantitative","scale":{"domain":[0,46.6],"nice":false},"axis":null},
   "y":{"field":"y","type":"quantitative","scale":{"domain":[2.96,7],"nice":false,"zero":false},"axis":{"values":[3,3.5,4,4.5,5,5.5,6,6.5,7],"labelExpr":"datum.value%1==0&&datum.value!=6?format(datum.value,'.1f'):''","labelColor":"#333333","tickColor":"#6a4a2a","labelFontSize":9,"title":["VTex","[L]"],"titleColor":"#333333","titleAngle":0,"titleAlign":"right","titleBaseline":"top","titleX":-7,"titleY":30,"titleLineHeight":13,"titleFontSize":9}}},
  "layer":[
   {"data":{"name":"vc"},"mark":{"type":"rule","color":"#8b5a14","strokeWidth":2,"strokeDash":[28,10],"clip":true},"encoding":{"x2":{"field":"x2"}}},
   {"data":{"name":"vc"},"mark":{"type":"text","dy":-9,"fontSize":10,"fontWeight":"bold","color":"#4a3a2a"},"encoding":{"x":{"field":"lx","type":"quantitative"},"text":{"field":"label"}}}
  ]
 },
 {"width":1,"height":1,"data":{"name":"blank"},"mark":{"type":"text","text":"","fontSize":1,"baseline":"top"}},
 {"width":1,"height":1,"data":{"name":"blank"},"mark":{"type":"text","text":"","fontSize":1,"baseline":"top"}},
 {
  "width":306,"height":169,
  "encoding":{"x":{"field":"t","type":"quantitative","scale":{"domain":[7.5,12],"range":[191,306],"nice":false,"zero":false},"axis":null}},
  "resolve":{"scale":{"y":"independent","color":"independent"}},
  "layer":[
   {"data":{"name":"petco2"},"transform":[{"filter":"datum.t>=7.5"}],"mark":{"type":"line","color":"#a01818","strokeWidth":2,"clip":true},"encoding":{"y":{"field":"v","type":"quantitative","scale":{"domain":[6.76,16],"nice":false,"zero":false},"axis":{"orient":"right","values":[7,8,9,10,11,12,13,14,15,16],"labelExpr":"datum.value%2==0&&datum.value!=14?datum.label:''","labelColor":"#8b1a1a","tickColor":"#8b1a1a","title":["PETCO2","[kPa]"],"titleColor":"#8b1a1a","titleAngle":0,"titleAlign":"left","titleBaseline":"top","titleX":6,"titleY":18,"titleLineHeight":14}}}},
   {"data":{"name":"peto2"},"mark":{"type":"line","color":"#1c1c78","strokeWidth":2,"clip":true},"encoding":{"y":{"field":"v","type":"quantitative","scale":{"domain":[8.45,20],"nice":false,"zero":false},"axis":null}}},
   {"data":{"values":[{"t":8.2,"c":"n"},{"t":8.36,"c":"r"}]},"mark":{"type":"rule","strokeWidth":3},"encoding":{"color":{"field":"c","type":"nominal","scale":{"domain":["n","r"],"range":["#2b2b78","#e8101a"]},"legend":null}}},
   {"data":{"values":[{"t":8.28,"v":8}]},"mark":{"type":"point","shape":"diamond","size":529,"filled":false,"stroke":"#3a2a6a","strokeWidth":2.5,"opacity":1},"encoding":{"y":{"field":"v","type":"quantitative","scale":{"domain":[6.76,16],"nice":false,"zero":false},"axis":null}}},
   {"data":{"values":[{"t":8.32,"v":8}]},"mark":{"type":"point","shape":"diamond","size":260,"filled":false,"stroke":"#d070d0","strokeWidth":1.5,"opacity":1},"encoding":{"y":{"field":"v","type":"quantitative","scale":{"domain":[6.76,16],"nice":false,"zero":false},"axis":null}}},
   {"data":{"values":[{"t":8.18,"v":15.8}]},"mark":{"type":"point","shape":"diamond","size":90,"filled":true,"fill":"white","stroke":"#23237a","strokeWidth":2,"opacity":1},"encoding":{"y":{"field":"v","type":"quantitative","scale":{"domain":[8.45,20],"nice":false,"zero":false},"axis":null}}},
   {"data":{"values":[{"t":8.18,"v":15.8,"label":"AT (V'CO2)"}]},"mark":{"type":"text","align":"left","dx":7,"fontSize":11,"fontWeight":"bold","color":"#23237a"},"encoding":{"y":{"field":"v","type":"quantitative","scale":{"domain":[8.45,20],"nice":false,"zero":false},"axis":null},"text":{"field":"label"}}}
  ]
 },
 {"width":1,"height":1,"data":{"name":"blank"},"mark":{"type":"text","text":"","fontSize":1,"baseline":"top"}},

 {"width":1,"height":123,"data":{"name":"blank"},"mark":{"type":"text","text":"","fontSize":1,"baseline":"top"}},
 {
  "width":305,"height":123,
  "encoding":{"x":{"field":"x","type":"quantitative","scale":{"domain":[0,70],"nice":false},"axis":{"values":[0,10,20,30,40,50,60,70],"labelExpr":"datum.value%20==0&&datum.value<70?datum.label:''","labelColor":"#a8946a","tickColor":"#e8a030","title":"V'E  [l/min]","titleColor":"#a8946a","titlePadding":1}},
   "y":{"field":"y","type":"quantitative","scale":{"domain":[0,2.96],"nice":false},"axis":{"values":[0,0.5,1,1.5,2,2.5],"labelExpr":"datum.value%1==0?format(datum.value,'.1f'):''","labelColor":"#333333","tickColor":"#6a4a2a","labelFontSize":9,"title":null}}},
  "layer":[
   {"data":{"name":"vtArea"},"mark":{"type":"area","fill":"#cfd9ea","stroke":"#8b5a2b","strokeWidth":1,"clip":true},"encoding":{"y2":{"field":"y2"}}},
   {"data":{"values":[{"x":67.8,"y":0,"y2":5.92}]},"mark":{"type":"rule","color":"#e3b46a","strokeWidth":2,"clip":true},"encoding":{"y2":{"field":"y2"}}},
   {"data":{"name":"bandTicks"},"mark":{"type":"rule","color":"#7f97c0","strokeWidth":1.2,"clip":true},"encoding":{"x2":{"field":"x2"}}},
   {"data":{"values":[{"x":68.8,"y":0,"y2":5.92}]},"mark":{"type":"rule","color":"#7f97c0","strokeWidth":1.5,"clip":true},"encoding":{"y2":{"field":"y2"}}},
   {"data":{"name":"vtThin"},"mark":{"type":"line","color":"#8b5a14","strokeWidth":1.8}},
   {"data":{"name":"vtThick"},"mark":{"type":"line","color":"#8b5a14","strokeWidth":3.5,"strokeCap":"round","strokeJoin":"round"}},
   {"data":{"name":"at"},"mark":{"type":"point","shape":"diamond","size":130,"filled":true,"fill":"white","stroke":"#1a1a7a","strokeWidth":2,"opacity":1}},
   {"data":{"name":"at"},"mark":{"type":"text","align":"left","dx":7,"fontSize":10,"fontWeight":"bold","color":"#1a1a7a","opacity":0.85},"encoding":{"text":{"field":"label"}}}
  ]
 },
 {"width":1,"height":1,"data":{"name":"blank"},"mark":{"type":"text","text":"","fontSize":1,"baseline":"top"}},
 {
  "width":305,"height":123,
  "encoding":{"x":{"field":"t","type":"quantitative","scale":{"domain":[0,12],"nice":false},"axis":{"values":[0,1,2,3,4,5,6,7,8,9,10,11,12],"labelExpr":"datum.value%2==0?datum.label:''","labelColor":"#55bb22","tickColor":"#77dd33","title":"Time  [min]","titleColor":"#55bb22","titlePadding":1}}},
  "resolve":{"scale":{"color":"independent"}},
  "layer":[
   {"data":{"name":"hBlack"},"mark":{"type":"line","interpolate":"step-after","color":"#000000","strokeWidth":2,"clip":true},"encoding":{"y":{"field":"v","type":"quantitative","scale":{"domain":[0,0.672],"nice":false},"axis":{"values":[0,0.1,0.2,0.3,0.4,0.5,0.6],"labelExpr":"round(datum.value*10)%2==0?format(datum.value,'.2f'):''","labelColor":"#1c2a5a","tickColor":"#1c2a5a","title":null}}}},
   {"data":{"values":[{"t":0.58,"c":"p"},{"t":8.22,"c":"n"},{"t":8.38,"c":"r"}]},"mark":{"type":"rule","strokeWidth":3},"encoding":{"color":{"field":"c","type":"nominal","scale":{"domain":["p","n","r"],"range":["#6a2fa0","#2b2b78","#e8101a"]},"legend":null}}}
  ]
 },
 {
  "width":306,"height":123,
  "encoding":{"x":{"field":"t","type":"quantitative","scale":{"domain":[0,12],"nice":false},"axis":{"values":[0,1,2,3,4,5,6,7,8,9,10,11,12],"labelExpr":"datum.value%2==0?datum.label:''","labelColor":"#55bb22","tickColor":"#77dd33","title":"Time  [min]","titleColor":"#55bb22","titlePadding":1}}},
  "resolve":{"scale":{"y":"independent","color":"independent"}},
  "layer":[
   {"data":{"name":"peto2"},"mark":{"type":"line","color":"#1c1c78","strokeWidth":2,"clip":true},"encoding":{"y":{"field":"v","type":"quantitative","scale":{"domain":[0,8.45],"nice":false},"axis":{"orient":"left","values":[0,1,2,3,4,5,6,7,8],"labelExpr":"datum.value%2==0?datum.label:''","labelColor":"#1c2a6a","tickColor":"#1c2a6a","title":null}}}},
   {"data":{"name":"petco2"},"mark":{"type":"line","color":"#a01818","strokeWidth":2,"clip":true},"encoding":{"y":{"field":"v","type":"quantitative","scale":{"domain":[0,6.76],"nice":false},"axis":{"orient":"right","values":[0,1,2,3,4,5,6],"labelExpr":"datum.value%2==0?datum.label:''","labelColor":"#8b1a1a","tickColor":"#8b1a1a","title":null}}}},
   {"data":{"values":[{"t":0.5,"c":"b"},{"t":8.2,"c":"n"},{"t":8.36,"c":"r"}]},"mark":{"type":"rule","strokeWidth":3},"encoding":{"color":{"field":"c","type":"nominal","scale":{"domain":["b","n","r"],"range":["#2a2ae6","#2b2b78","#e8101a"]},"legend":null}}}
  ]
 },
 {"width":1,"height":1,"data":{"name":"blank"},"mark":{"type":"text","text":"","fontSize":1,"baseline":"top"}},

 {"width":54,"height":37,"data":{"name":"blank"},"mark":{"type":"text","text":"","fontSize":1,"baseline":"top"}},
 {"width":313,"height":1,"data":{"name":"blank"},"mark":{"type":"text","text":"","fontSize":1,"baseline":"top"}},
 {"width":108,"height":1,"data":{"name":"blank"},"mark":{"type":"text","text":"","fontSize":1,"baseline":"top"}},
 {"width":421,"height":1,"data":{"name":"blank"},"mark":{"type":"text","text":"","fontSize":1,"baseline":"top"}},
 {"width":364,"height":1,"data":{"name":"blank"},"mark":{"type":"text","text":"","fontSize":1,"baseline":"top"}},
 {"width":140,"height":1,"data":{"name":"blank"},"mark":{"type":"text","text":"","fontSize":1,"baseline":"top"}}
]
}
